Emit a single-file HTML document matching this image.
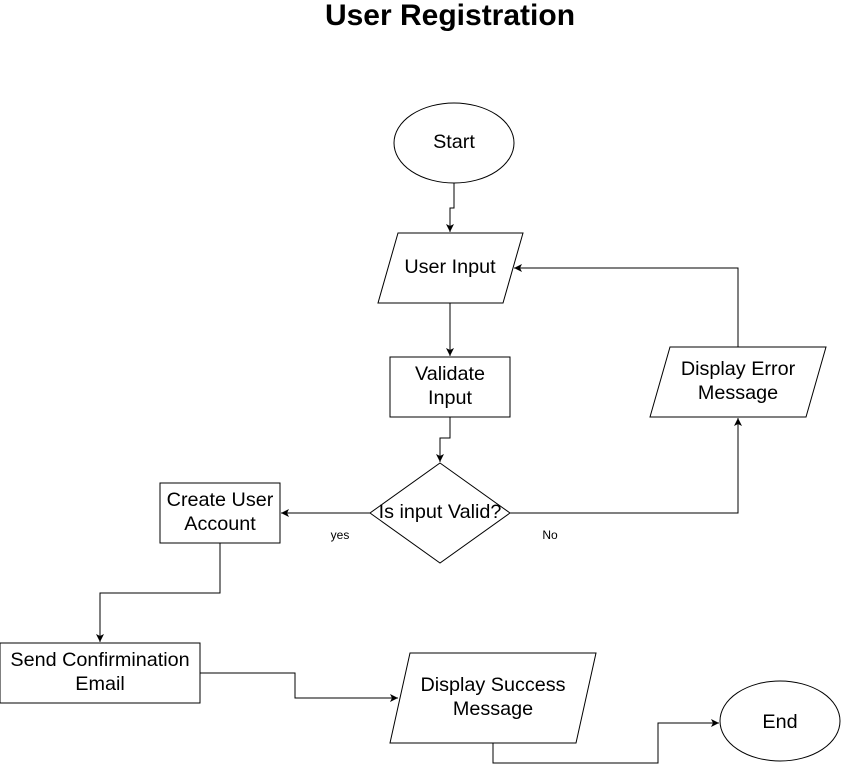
<!DOCTYPE html>
<html><head><meta charset="utf-8"><style>
html,body{margin:0;padding:0;background:#fff;width:842px;height:772px;overflow:hidden}
svg{display:block}
text{font-family:"Liberation Sans",sans-serif;fill:#000}
</style></head><body>
<svg width="842" height="772" viewBox="0 0 842 772" xmlns="http://www.w3.org/2000/svg">
<defs><marker id="a" markerWidth="10" markerHeight="10" refX="8" refY="5" orient="auto" markerUnits="userSpaceOnUse"><path d="M0,1 L8,5 L0,9 L2,5 Z" fill="#000"/></marker></defs>
<text x="450" y="25" font-size="30" font-weight="bold" text-anchor="middle">User Registration</text>
<g fill="#fff" stroke="#000" stroke-width="1">
<ellipse cx="454" cy="143" rx="60" ry="40"/>
<polygon points="398,233 523,233 503,303 378,303"/>
<rect x="390" y="357" width="120" height="60"/>
<polygon points="440,463 510,513 440,563 370,513"/>
<polygon points="670,347 826,347 806,417 650,417"/>
<rect x="160" y="483" width="120" height="60"/>
<rect x="0" y="643" width="200" height="60"/>
<polygon points="410,653 596,653 576,743 390,743"/>
<ellipse cx="780" cy="721" rx="60" ry="40"/>
</g>
<g fill="none" stroke="#000" stroke-width="1" marker-end="url(#a)">
<path d="M454,183 V208 H450 V232"/>
<path d="M450,303 V356"/>
<path d="M450,417 V438 H440 V462"/>
<path d="M370,513 H281"/>
<path d="M510,513 H738 V418"/>
<path d="M738,347 V268 H514"/>
<path d="M220,543 V593 H100 V642"/>
<path d="M200,673 H295 V698 H398"/>
<path d="M493,743 V763 H658 V723 H719"/>
</g>
<g font-size="19.8" text-anchor="middle">
<text x="454" y="148">Start</text>
<text x="450" y="273">User Input</text>
<text x="450" y="380">Validate</text>
<text x="450" y="404">Input</text>
<text x="440" y="518">Is input Valid?</text>
<text x="738" y="375">Display Error</text>
<text x="738" y="399">Message</text>
<text x="220" y="506">Create User</text>
<text x="220" y="530">Account</text>
<text x="100" y="666">Send Confirmination</text>
<text x="100" y="690">Email</text>
<text x="493" y="691">Display Success</text>
<text x="493" y="715">Message</text>
<text x="780" y="728">End</text>
</g>
<text x="340" y="539" font-size="12" text-anchor="middle">yes</text>
<text x="550" y="539" font-size="12" text-anchor="middle">No</text>
</svg>
</body></html>
